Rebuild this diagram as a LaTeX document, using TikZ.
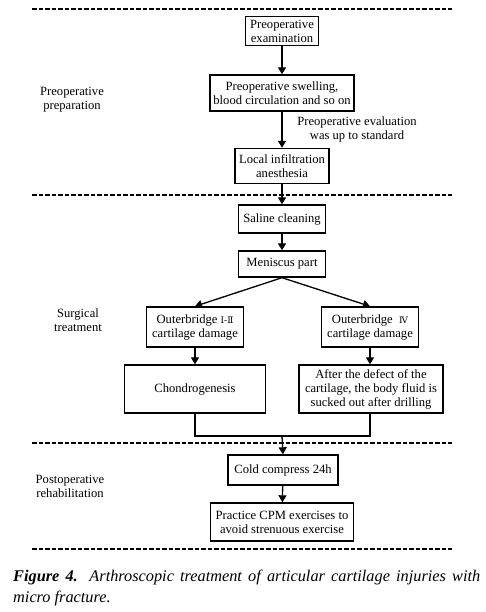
\documentclass[tikz,border=0pt]{standalone}
\usepackage{fontspec}
\setmainfont{Liberation Serif}
\newfontfamily\numfont{DejaVu Serif}
\usetikzlibrary{arrows.meta,calc}
\tikzset{
  box/.style={draw,line width=1.4pt,align=center,inner sep=1pt,font=\fontsize{12.6}{14}\selectfont},
  lab/.style={align=center,font=\fontsize{12.6}{14}\selectfont},
  arr/.style={line width=1.3pt,-{Triangle[length=7pt,width=8pt]}},
  ln/.style={line width=1.3pt},
  sep/.style={line width=1.3pt,dash pattern=on 4.5pt off 2pt}
}
\begin{document}
\begin{tikzpicture}[x=1pt,y=-1pt]
\useasboundingbox (0,0) rectangle (486,612);
% separators
\draw[sep] (32,9) -- (452,9);
\draw[sep] (32,195) -- (452,195);
\draw[sep] (32,443) -- (452,443);
\draw[sep] (32,549) -- (452,549);
% section labels
\node[lab] (pp) at (72,100) {Preoperative\\preparation};
\node[lab] (st) at (78,320) {Surgical\\treatment};
\node[lab] (pr) at (70,486) {Postoperative\\rehabilitation};
% boxes
\node[box,minimum width=73pt,minimum height=29pt] (ex) at (282,31) {Preoperative\\examination};
\node[box,minimum width=144pt,minimum height=36pt] (sw) at (282,93) {Preoperative swelling,\\blood circulation and so on};
\node[box,minimum width=94pt,minimum height=35pt] (li) at (282,166) {Local infiltration\\anesthesia};
\node[box,minimum width=87pt,minimum height=28pt] (sc) at (282,219) {Saline cleaning};
\node[box,minimum width=87pt,minimum height=26pt] (mp) at (282,264) {Meniscus part};
\node[box,minimum width=97pt,minimum height=40pt] (o12) at (195,327) {Outerbridge {\numfont\fontsize{9}{10}\selectfont Ⅰ-Ⅱ}\\cartilage damage};
\node[box,minimum width=97pt,minimum height=40pt] (o4) at (370,327) {Outerbridge \ {\numfont\fontsize{9}{10}\selectfont Ⅳ}\\cartilage damage};
\node[box,minimum width=141pt,minimum height=48pt] (ch) at (195,389) {Chondrogenesis};
\node[box,minimum width=144pt,minimum height=48pt] (af) at (371,389) {After the defect of the\\cartilage, the body fluid is\\sucked out after drilling};
\node[box,minimum width=110pt,minimum height=30pt] (cc) at (283,470) {Cold compress 24h};
\node[box,minimum width=143pt,minimum height=38pt] (pc) at (282,522) {Practice CPM exercises to\\avoid strenuous exercise};
% note
\node[lab] (ev) at (357,129) {Preoperative evaluation\\was up to standard};
% connectors
\draw[arr] (ex) -- (sw);
\draw[arr] (sw) -- (li);
\draw[arr] (li) -- (sc);
\draw[arr] (sc) -- (mp);
\draw[arr] (mp.south) -- (o12.north);
\draw[arr] (mp.south) -- (o4.north);
\draw[arr] (o12) -- (ch);
\draw[arr] (o4.south) -- (o4.south |- af.north);
\coordinate (m) at (282,436);
\draw[ln] (ch.south) |- (m);
\draw[ln] (af.south -| o4) |- (m);
\draw[arr] (m) -- (cc.north);
\draw[arr] (cc) -- (pc);
% caption
\node[anchor=north west,inner sep=0pt,text width=467pt,align=justify,
  font=\fontsize{16.3}{20.5}\selectfont\itshape] (cap) at (13,570)
  {\hyphenpenalty=10000 {\bfseries Figure 4.} Arthroscopic treatment of articular cartilage injuries with\linebreak micro fracture.};
\end{tikzpicture}
\end{document}
